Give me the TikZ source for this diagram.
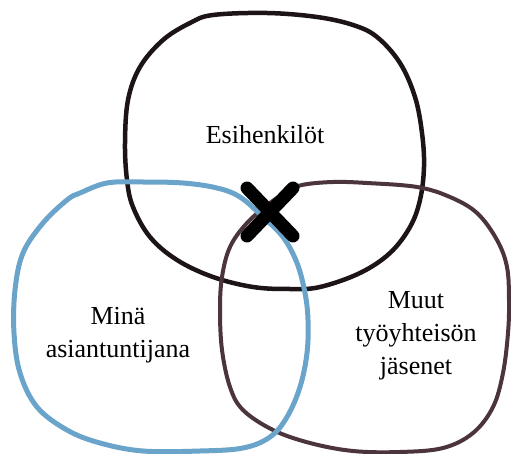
\documentclass[tikz,border=0pt]{standalone}
\usepackage{fontspec}
\setmainfont{Liberation Serif}
\usepackage{tikz}
\usetikzlibrary{calc}
\definecolor{venn_black}{RGB}{28, 20, 22}
\definecolor{venn_blue}{RGB}{106, 164, 202}
\definecolor{venn_plum}{RGB}{76, 52, 60}

\begin{document}
\begin{tikzpicture}[
  x=1pt,y=-1pt,
  font=\fontsize{26}{33}\selectfont,
  blob/.style={line width=4.5pt,line join=round},
  setname/.style={align=center,text=black},
  xmark/.style={line width=13pt,line cap=round,draw=black}
]
\useasboundingbox (0,0) rectangle (511,454);
% top set
\draw[blob,draw=venn_black] plot[smooth cycle,tension=0.6] coordinates {
  (213,15) (267,13) (317,17) (353,25) (377,37) (400,63) (415,97) (422,133)
  (424,167) (420,200) (410,227) (390,253) (360,273) (320,287) (290,289)
  (253,287) (213,277) (177,260) (150,237) (133,207) (127,180) (125,143)
  (128,100) (140,67) (163,40) (190,23)};
% right set
\draw[blob,draw=venn_plum,line width=4pt] plot[smooth cycle,tension=0.6] coordinates {
  (302,185) (333,182) (367,183) (417,187) (450,197) (477,213) (497,240)
  (507,267) (509,300) (508,333) (503,373) (493,407) (473,433) (443,448)
  (400,452) (353,451) (310,443) (273,430) (243,410) (230,387) (222,350)
  (220,310) (222,277) (230,247) (247,223) (270,203) (287,192)};
% left set
\draw[blob,draw=venn_blue,line width=5pt] plot[smooth cycle,tension=0.6] coordinates {
  (80,193) (107,183) (140,182) (183,183) (217,188) (240,197) (263,217)
  (283,237) (297,263) (305,293) (308,320) (307,353) (300,387) (287,417)
  (270,437) (243,448) (200,451) (143,451) (100,443) (67,430) (37,407)
  (20,373) (14,333) (15,290) (23,253) (43,223) (67,200)};
\node[setname] (esi) at (265,135) {Esihenkilöt};
\node[setname] (mina) at (118,335) {Minä\\asiantuntijana};
\node[setname] (muut) at (416,336) {Muut\\työyhteisön\\jäsenet};
\coordinate (mid) at (270,212);
\draw[xmark] ($(mid)+(-23,-24)$) -- ($(mid)+(23,24)$);
\draw[xmark] ($(mid)+(23,-24)$) -- ($(mid)+(-23,24)$);
\end{tikzpicture}
\end{document}
